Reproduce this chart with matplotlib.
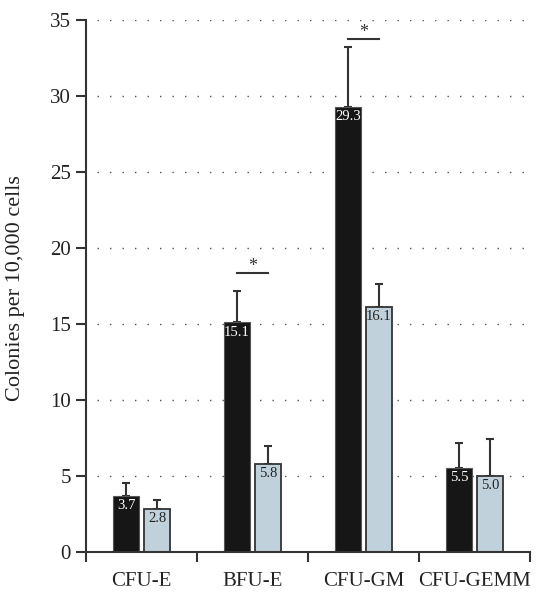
import matplotlib
matplotlib.use('Agg')
import matplotlib.pyplot as plt
import numpy as np
from matplotlib.patches import Rectangle

plt.rcParams['font.family'] = ['Liberation Serif', 'DejaVu Serif']

categories = ['CFU-E', 'BFU-E', 'CFU-GM', 'CFU-GEMM']
dark_vals = [3.7, 15.1, 29.3, 5.5]
light_vals = [2.8, 5.8, 16.1, 5.0]
dark_err = [0.84, 2.1, 3.9, 1.67]
light_err = [0.62, 1.17, 1.5, 2.43]
sig_idx = [1, 2]
sig_heights = [18.35, 33.75]

x = np.arange(len(categories))
w = 0.235
off = 0.14

fig = plt.figure(figsize=(5.47, 5.98), dpi=100)
ax = fig.add_axes([86/547, 46/598, 444/547, 532/598])

# dotted grid
for g in range(5, 40, 5):
    ax.axhline(g, xmin=0.025, xmax=0.99, color='#555555', lw=1.0,
               linestyle=(0, (1, 8)), zorder=0)

ax.bar(x - off, dark_vals, w, color='#161616', edgecolor='#555555', lw=0.8, zorder=2)
ax.bar(x + off, light_vals, w, color='#c0d1db', edgecolor='#333333', lw=1.3, zorder=2)
ax.errorbar(x - off, dark_vals, yerr=[np.zeros(4), dark_err], fmt='none',
            ecolor='#333333', elinewidth=1.5, capsize=3, capthick=1.5, zorder=1)
ax.errorbar(x + off, light_vals, yerr=[np.zeros(4), light_err], fmt='none',
            ecolor='#333333', elinewidth=1.5, capsize=3, capthick=1.5, zorder=1)

for i in range(len(categories)):
    ax.text(x[i] - off, dark_vals[i] - 0.2, '%.1f' % dark_vals[i], ha='center', va='top',
            color='white', fontsize=10.5, zorder=4)
    ax.text(x[i] + off, light_vals[i] - 0.2, '%.1f' % light_vals[i], ha='center', va='top',
            color='#222222', fontsize=10.5, zorder=4)

for i, h in zip(sig_idx, sig_heights):
    ax.plot([x[i] - off, x[i] + off], [h, h], color='#333333', lw=1.5, clip_on=False)
    ax.text(x[i], h + 0.13, '*', ha='center', va='baseline', fontsize=13, color='#333333',
            clip_on=False)

ax.set_xlim(-0.5, 3.5)
ax.set_ylim(0, 35)
ax.set_yticks(range(0, 40, 5))
ax.set_xticks(np.arange(-0.5, 4, 1))
ax.set_xticklabels([])
ax.set_xticks(x, minor=True)
ax.set_xticklabels(categories, minor=True, fontsize=15)
ax.tick_params(axis='x', which='minor', length=0, pad=14.3, colors='#222222')
ax.tick_params(axis='x', which='major', direction='out', length=7, width=1.5, color='#333333')
ax.tick_params(axis='y', direction='out', length=7, width=1.5, color='#333333',
               labelsize=15, labelcolor='#222222', pad=4)

for s in ['top', 'right']:
    ax.spines[s].set_visible(False)
for s in ['left', 'bottom']:
    ax.spines[s].set_color('#333333')
    ax.spines[s].set_linewidth(1.5)

ax.set_ylabel('Colonies per 10,000 cells', fontsize=16, color='#222222')
ax.yaxis.set_label_coords(-0.137, 0.496)

# original image is cropped just below the category labels
fig.patches.append(Rectangle((0, 0), 1, 12/598, transform=fig.transFigure,
                             color='white', zorder=10))

fig.savefig('out.png', dpi=100)
